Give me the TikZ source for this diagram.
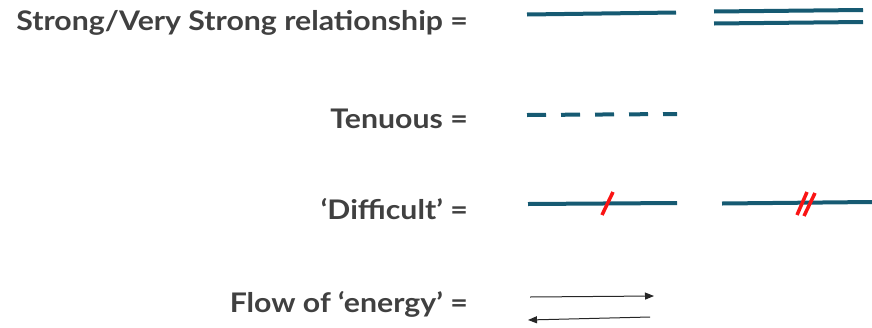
\documentclass[tikz,border=0pt]{standalone}
\usepackage{fontspec}
\setmainfont[FakeStretch=1.12]{Lato}
\usetikzlibrary{arrows.meta}
\definecolor{teal1}{RGB}{22,90,114}
\definecolor{txt}{RGB}{64,64,64}
\definecolor{slash}{RGB}{250,20,20}
\begin{document}
\begin{tikzpicture}[x=1pt,y=-1pt,
  lbl/.style={anchor=base east,inner sep=0pt,font=\fontsize{27}{30}\selectfont\bfseries,text=txt},
  rel/.style={draw=teal1,line width=4pt},
  cut/.style={draw=slash,line width=3.5pt},
  flow/.style={draw=black!85,line width=1pt,-{Triangle[length=9pt,width=7pt]}}]
\useasboundingbox (0,0) rectangle (872,327);
\node[lbl] (l1) at (468,30) {Strong/Very Strong relationship =};
\node[lbl] (l2) at (468,128) {Tenuous =};
\node[lbl] (l3) at (468,219) {‘Difficult’ =};
\node[lbl] (l4) at (468,312) {Flow of ‘energy’ =};
% strong
\coordinate (s1a) at (527,14.5); \coordinate (s1b) at (676,12.5);
\draw[rel] (s1a) -- (s1b);
\coordinate (s2a) at (714,11.5); \coordinate (s2b) at (863,10);
\coordinate (s3a) at (714,23.5); \coordinate (s3b) at (863,22);
\draw[rel] (s2a) -- (s2b);
\draw[rel] (s3a) -- (s3b);
% tenuous
\coordinate (t1) at (527,115); \coordinate (t2) at (677,114);
\draw[rel,dash pattern=on 19pt off 15pt] (t1) -- (t2);
% difficult
\coordinate (d1) at (528,204); \coordinate (d2) at (677,203);
\draw[rel] (d1) -- (d2);
\coordinate (c1a) at (613,192); \coordinate (c1b) at (602,215);
\draw[cut] (c1a) -- (c1b);
\coordinate (e1) at (722,203.5); \coordinate (e2) at (872,202);
\draw[rel] (e1) -- (e2);
\coordinate (c2a) at (807,192); \coordinate (c2b) at (797,215);
\coordinate (c3a) at (815,193); \coordinate (c3b) at (804,216);
\draw[cut] (c2a) -- (c2b);
\draw[cut] (c3a) -- (c3b);
% flow
\coordinate (f1) at (530,297); \coordinate (f2) at (654,296);
\coordinate (g1) at (650,317); \coordinate (g2) at (528,320);
\draw[flow] (f1) -- (f2);
\draw[flow] (g1) -- (g2);
\end{tikzpicture}
\end{document}
